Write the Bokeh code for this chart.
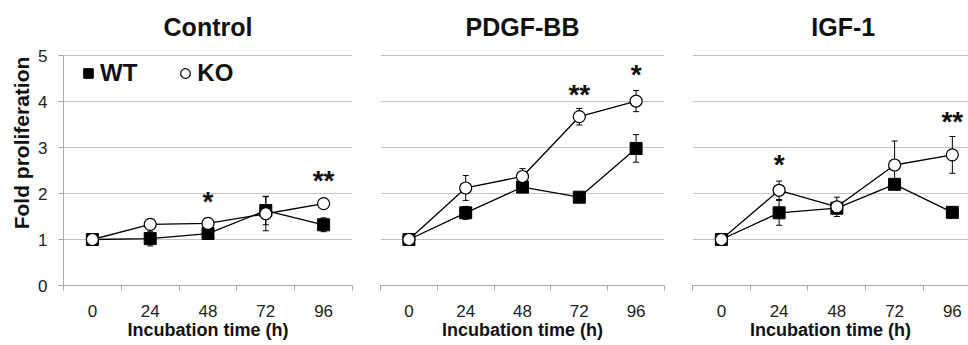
from bokeh.plotting import figure
from bokeh.models import (Range1d, FixedTicker, Grid, Legend, LegendItem,
                          ColumnDataSource, Label)
from bokeh.layouts import row
from bokeh.embed import file_html
from bokeh.resources import INLINE
from bokeh.core.properties import value

# ---------------- data ----------------
hours = ["0", "24", "48", "72", "96"]
panel_titles = ["Control", "PDGF-BB", "IGF-1"]
y_ticks = [0, 1, 2, 3, 4, 5]

control_wt = [1.00, 1.02, 1.13, 1.63, 1.32]
control_wt_err = [0.0, 0.16, 0.05, 0.31, 0.15]
control_ko = [1.00, 1.33, 1.35, 1.56, 1.78]
control_ko_err = [0.0, 0.07, 0.05, 0.37, 0.05]

pdgf_wt = [1.00, 1.58, 2.14, 1.92, 2.98]
pdgf_wt_err = [0.0, 0.14, 0.06, 0.05, 0.30]
pdgf_ko = [1.00, 2.12, 2.37, 3.67, 4.01]
pdgf_ko_err = [0.0, 0.27, 0.17, 0.18, 0.23]

igf_wt = [1.00, 1.58, 1.68, 2.20, 1.59]
igf_wt_err = [0.0, 0.27, 0.10, 0.10, 0.08]
igf_ko = [1.00, 2.07, 1.71, 2.62, 2.84]
igf_ko_err = [0.0, 0.20, 0.21, 0.52, 0.40]

control_sig_hours = ["48", "96"]
control_sig_marks = ["*", "**"]
control_sig_y = [1.83, 2.29]
pdgf_sig_hours = ["72", "96"]
pdgf_sig_marks = ["**", "*"]
pdgf_sig_y = [4.16, 4.59]
igf_sig_hours = ["24", "96"]
igf_sig_marks = ["*", "**"]
igf_sig_y = [2.63, 3.56]

FONT = "Liberation Sans"
GRID = "#c4c4c4"
AXIS = "#a8a8a8"
Y_TOP = 6.196      # frame extends above 5 to hold the panel titles
TITLE_Y = 5.62     # vertical middle of panel titles (data units)


def xpos(h):
    return hours.index(h) + 0.5


def make_panel(title, wt, wt_err, ko, ko_err, sig_h, sig_m, sig_y,
               width, left, right, x_end, title_x, show_y, show_legend):
    p = figure(width=width, height=344, x_range=Range1d(0, x_end),
               y_range=Range1d(0, Y_TOP), output_backend="svg",
               toolbar_location=None, min_border_left=left,
               min_border_right=right, min_border_top=0,
               min_border_bottom=59,
               y_axis_location="left" if show_y else None)
    p.outline_line_color = None
    p.background_fill_color = "white"
    p.border_fill_color = "white"

    # x axis
    xa = p.xaxis[0]
    xa.ticker = FixedTicker(ticks=[xpos(h) for h in hours],
                            minor_ticks=list(range(len(hours) + 1)))
    xa.major_label_overrides = {xpos(h): h for h in hours}
    xa.major_tick_line_color = None
    xa.major_tick_out = 0
    xa.major_tick_in = 0
    xa.minor_tick_line_color = AXIS
    xa.minor_tick_out = 5
    xa.minor_tick_in = 0
    xa.axis_line_color = AXIS
    xa.major_label_text_font = FONT
    xa.major_label_text_font_size = "17px"
    xa.major_label_text_color = "#222222"
    xa.major_label_standoff = 14
    xa.axis_label = "Incubation time (h)"
    xa.axis_label_text_font = FONT
    xa.axis_label_text_font_size = "18px"
    xa.axis_label_text_font_style = "bold"
    xa.axis_label_text_color = "#111111"
    xa.axis_label_standoff = 0

    # grids: only horizontal lines at 0..5
    has_ygrid = False
    for g in p.grid:
        if g.dimension == 0:
            g.grid_line_color = None
        else:
            g.ticker = FixedTicker(ticks=y_ticks)
            g.grid_line_color = GRID
            g.grid_line_width = 1.2
            has_ygrid = True
    if not has_ygrid:
        p.add_layout(Grid(dimension=1, ticker=FixedTicker(ticks=y_ticks),
                          grid_line_color=GRID, grid_line_width=1.2))

    if show_y:
        ya = p.yaxis[0]
        ya.ticker = FixedTicker(ticks=y_ticks)
        ya.bounds = (y_ticks[0], y_ticks[-1])
        ya.minor_tick_line_color = None
        ya.major_tick_out = 5
        ya.major_tick_in = 0
        ya.major_tick_line_color = AXIS
        ya.axis_line_color = AXIS
        ya.major_label_text_font = FONT
        ya.major_label_text_font_size = "17px"
        ya.major_label_text_color = "#222222"
        ya.major_label_standoff = 11
        ya.axis_label = "Fold proliferation"
        ya.axis_label_text_font = FONT
        ya.axis_label_text_font_size = "21px"
        ya.axis_label_text_font_style = "bold"
        ya.axis_label_text_color = "#111111"
        ya.axis_label_standoff = 2

    p.add_layout(Label(x=title_x, y=TITLE_Y, text=title, text_align="center",
                       text_baseline="middle", text_font=FONT,
                       text_font_size="25px", text_font_style="bold",
                       text_color="#111111"))

    x = [xpos(h) for h in hours]

    # error bars
    for vals, errs in ((wt, wt_err), (ko, ko_err)):
        ex = [xi for xi, e in zip(x, errs) if e > 0]
        lo = [v - e for v, e in zip(vals, errs) if e > 0]
        hi = [v + e for v, e in zip(vals, errs) if e > 0]
        src = ColumnDataSource(dict(x=ex, lo=lo, hi=hi))
        p.segment(x0="x", y0="lo", x1="x", y1="hi", source=src,
                  line_color="black", line_width=1)
        p.scatter(x="x", y="lo", source=src, marker="dash", size=6,
                  line_color="black", line_width=1)
        p.scatter(x="x", y="hi", source=src, marker="dash", size=6,
                  line_color="black", line_width=1)

    wt_src = ColumnDataSource(dict(x=x, y=wt))
    ko_src = ColumnDataSource(dict(x=x, y=ko))
    p.line("x", "y", source=wt_src, line_color="black", line_width=1.3)
    p.line("x", "y", source=ko_src, line_color="black", line_width=1.3)
    wt_r = p.scatter("x", "y", source=wt_src, marker="square", size=12,
                     fill_color="black", line_color="black")
    ko_r = p.scatter("x", "y", source=ko_src, marker="circle", size=12,
                     fill_color="white", line_color="black", line_width=1.2)

    sig_src = ColumnDataSource(dict(x=[xpos(h) for h in sig_h], y=sig_y,
                                    t=sig_m))
    p.text(x="x", y="y", text="t", source=sig_src, text_align="center",
           text_baseline="middle", text_font=value(FONT),
           text_font_size="28px", text_font_style="bold",
           text_color="#111111")

    if show_legend:
        leg = Legend(items=[LegendItem(label="WT", renderers=[wt_r]),
                            LegendItem(label="KO", renderers=[ko_r])],
                     location=(13, 198), orientation="horizontal",
                     glyph_width=24, glyph_height=24, label_standoff=-5,
                     spacing=36, padding=0, margin=0,
                     border_line_color=None, background_fill_alpha=0,
                     label_text_font=FONT, label_text_font_size="24px",
                     label_text_font_style="bold", label_height=24,
                     label_text_color="#111111")
        p.add_layout(leg)
    return p


p1 = make_panel(panel_titles[0], control_wt, control_wt_err, control_ko,
                control_ko_err, control_sig_hours, control_sig_marks,
                control_sig_y, 366, 63, 14, 5, 2.5, True, True)
p2 = make_panel(panel_titles[1], pdgf_wt, pdgf_wt_err, pdgf_ko, pdgf_ko_err,
                pdgf_sig_hours, pdgf_sig_marks, pdgf_sig_y, 312, 14, 14, 5,
                2.5, False, False)
p3 = make_panel(panel_titles[2], igf_wt, igf_wt_err, igf_ko, igf_ko_err,
                igf_sig_hours, igf_sig_marks, igf_sig_y, 290, 14, 0, 4.78,
                2.61, False, False)

layout = row(p1, p2, p3)
open("out.html", "w").write(file_html(layout, INLINE))
